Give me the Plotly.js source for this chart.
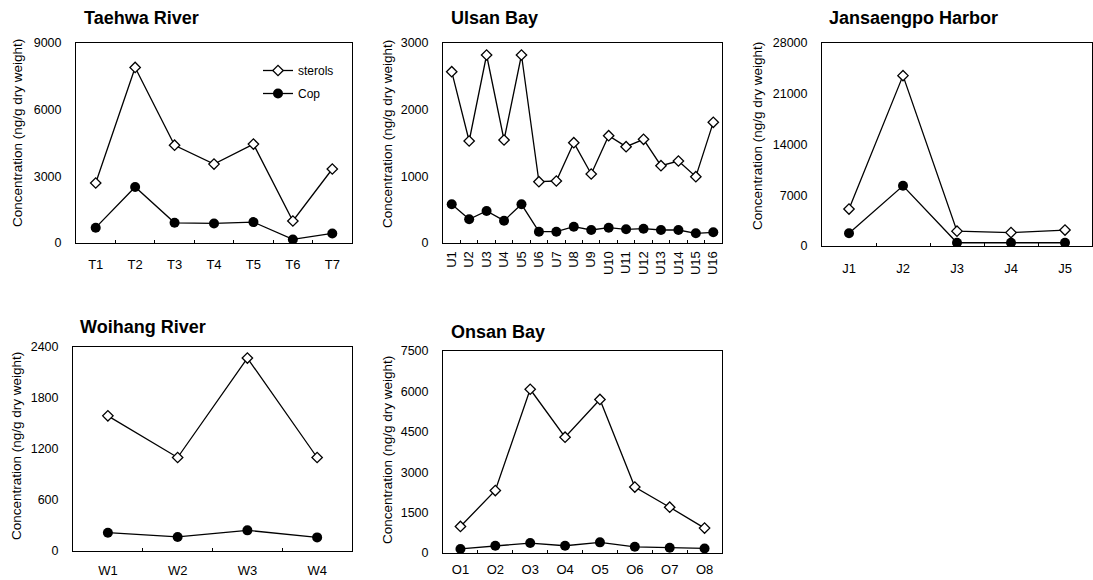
<!DOCTYPE html>
<html>
<head>
<meta charset="utf-8">
<script src="https://cdn.plot.ly/plotly-3.0.1.min.js"></script>
<style>
  html, body { margin: 0; padding: 0; background: #ffffff; }
  #chart { width: 1093px; height: 580px; }
</style>
</head>
<body>
<div id="chart"></div>
<script>
// ---------------- Data ----------------
const taehwaSites   = ['T1', 'T2', 'T3', 'T4', 'T5', 'T6', 'T7'];
const taehwaSterols = [2700, 7900, 4400, 3550, 4450, 990, 3330];
const taehwaCop     = [690, 2520, 910, 880, 940, 160, 430];
const taehwaTicks   = [0, 3000, 6000, 9000];

const ulsanSites   = ['U1', 'U2', 'U3', 'U4', 'U5', 'U6', 'U7', 'U8', 'U9', 'U10', 'U11', 'U12', 'U13', 'U14', 'U15', 'U16'];
const ulsanSterols = [2570, 1530, 2820, 1545, 2820, 920, 930, 1505, 1035, 1610, 1445, 1555, 1160, 1230, 995, 1810];
const ulsanCop     = [580, 355, 480, 335, 580, 170, 170, 245, 195, 230, 205, 215, 195, 195, 145, 160];
const ulsanTicks   = [0, 1000, 2000, 3000];

const jansSites   = ['J1', 'J2', 'J3', 'J4', 'J5'];
const jansSterols = [5100, 23500, 2050, 1850, 2200];
const jansCop     = [1750, 8300, 450, 450, 450];
const jansTicks   = [0, 7000, 14000, 21000, 28000];

const woihangSites   = ['W1', 'W2', 'W3', 'W4'];
const woihangSterols = [1590, 1100, 2270, 1100];
const woihangCop     = [215, 165, 243, 160];
const woihangTicks   = [0, 600, 1200, 1800, 2400];

const onsanSites   = ['O1', 'O2', 'O3', 'O4', 'O5', 'O6', 'O7', 'O8'];
const onsanSterols = [985, 2320, 6080, 4300, 5700, 2450, 1700, 925];
const onsanCop     = [150, 270, 370, 270, 395, 230, 195, 170];
const onsanTicks   = [0, 1500, 3000, 4500, 6000, 7500];

const panelTitles = ['Taehwa River', 'Ulsan Bay', 'Jansaengpo Harbor', 'Woihang River', 'Onsan Bay'];
const seriesNames = ['sterols', 'Cop'];
const yTitle = 'Concentration (ng/g dry weight)';

// ---------------- Layout helpers ----------------
const W = 1093, H = 580;
const FONT = 'Liberation Sans, Arial, Helvetica, sans-serif';
const px2x = p => p / W;
const px2y = p => 1 - p / H;

const panels = [
  { sites: taehwaSites,  sterols: taehwaSterols,  cop: taehwaCop,  ticks: taehwaTicks,  box: [76, 352, 43, 243],   tAt: [82, 30],   yt: [18, 133],  rot: 0,   so: 9 },
  { sites: ulsanSites,   sterols: ulsanSterols,   cop: ulsanCop,   ticks: ulsanTicks,   box: [443, 722, 43, 243],  tAt: [449, 30],  yt: [387, 134], rot: -90, so: 2 },
  { sites: jansSites,    sterols: jansSterols,    cop: jansCop,    ticks: jansTicks,    box: [822, 1092, 43, 246], tAt: [827, 30],  yt: [757, 136], rot: 0,   so: 10 },
  { sites: woihangSites, sterols: woihangSterols, cop: woihangCop, ticks: woihangTicks, box: [73, 352, 347, 551],  tAt: [78, 339],  yt: [16, 446],  rot: 0,   so: 7 },
  { sites: onsanSites,   sterols: onsanSterols,   cop: onsanCop,   ticks: onsanTicks,   box: [443, 722, 351, 553], tAt: [449, 344], yt: [387, 450], rot: 0,   so: 4 }
];

const data = [];
const layout = {
  width: W, height: H,
  margin: { l: 0, r: 0, t: 0, b: 0 },
  paper_bgcolor: '#ffffff',
  plot_bgcolor: '#ffffff',
  font: { family: FONT, size: 12, color: '#000000' },
  showlegend: true,
  legend: {
    x: px2x(258), y: px2y(56), xanchor: 'left', yanchor: 'top',
    bgcolor: 'rgba(0,0,0,0)', borderwidth: 0,
    font: { family: FONT, size: 12, color: '#000000' },
    itemwidth: 30, tracegroupgap: 4
  },
  annotations: []
};

panels.forEach((p, i) => {
  const k = i === 0 ? '' : String(i + 1);
  const xa = 'x' + k, ya = 'y' + k;
  data.push({
    x: p.sites, y: p.sterols, name: seriesNames[0], type: 'scatter', mode: 'lines+markers',
    xaxis: xa, yaxis: ya, showlegend: i === 0, legendgroup: 's',
    line: { color: '#000000', width: 1.3 },
    marker: { symbol: 'diamond', size: 8, color: '#ffffff', line: { color: '#000000', width: 1.3 } }
  });
  data.push({
    x: p.sites, y: p.cop, name: seriesNames[1], type: 'scatter', mode: 'lines+markers',
    xaxis: xa, yaxis: ya, showlegend: i === 0, legendgroup: 'c',
    line: { color: '#000000', width: 1.3 },
    marker: { symbol: 'circle', size: 10, color: '#000000', line: { color: '#000000', width: 0 } }
  });
  const [x0, x1, y0, y1] = p.box;
  layout['xaxis' + k] = {
    domain: [px2x(x0), px2x(x1)], anchor: ya, type: 'category',
    range: [-0.5, p.sites.length - 0.5], automargin: false,
    showline: true, mirror: true, linecolor: '#000000', linewidth: 1,
    showgrid: false, zeroline: false,
    ticks: 'inside', tickson: 'boundaries', ticklen: 3, tickcolor: '#000000', tickwidth: 1,
    tickangle: p.rot, ticklabelstandoff: p.so,
    tickfont: { family: FONT, size: 13, color: '#000000' },
    fixedrange: true
  };
  layout['yaxis' + k] = {
    domain: [px2y(y1), px2y(y0)], anchor: xa,
    range: [0, p.ticks[p.ticks.length - 1]], automargin: false,
    tickvals: p.ticks, ticktext: p.ticks.map(String),
    showline: true, mirror: true, linecolor: '#000000', linewidth: 1,
    showgrid: false, zeroline: false, ticks: '',
    ticklabelstandoff: 11,
    tickfont: { family: FONT, size: 12.5, color: '#000000' },
    fixedrange: true
  };
  layout.annotations.push({
    text: '<b>' + panelTitles[i] + '</b>', xref: 'paper', yref: 'paper',
    x: px2x(p.tAt[0]), y: px2y(p.tAt[1]), xanchor: 'left', yanchor: 'bottom',
    showarrow: false, font: { family: FONT, size: 18, color: '#000000' }
  });
  layout.annotations.push({
    text: yTitle, xref: 'paper', yref: 'paper', textangle: -90,
    x: px2x(p.yt[0]), y: px2y(p.yt[1]), xanchor: 'center', yanchor: 'middle',
    showarrow: false, font: { family: FONT, size: 13.5, color: '#000000' }
  });
});

Plotly.newPlot('chart', data, layout, { displayModeBar: false, staticPlot: true });
</script>
</body>
</html>
